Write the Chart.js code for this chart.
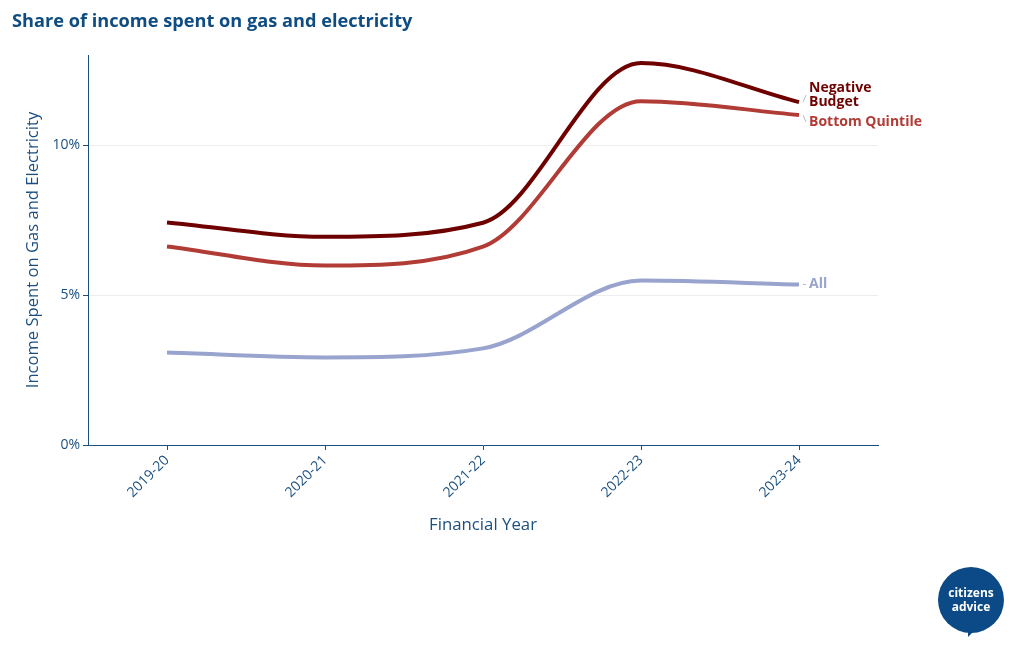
<!DOCTYPE html>
<html>
<head>
<meta charset="utf-8">
<script src="https://cdn.jsdelivr.net/npm/chart.js@4"></script>
<style>
  html, body { margin: 0; padding: 0; background: #fff; }
  #wrap { position: relative; width: 1020px; height: 650px; }
  #title {
    position: absolute; left: 12px; top: 8px;
    font: bold 18.2px "Open Sans", sans-serif; color: #0f4c81;
  }
  #logo {
    position: absolute; left: 938px; top: 567px; width: 66px; height: 66px;
    border-radius: 50%; background: #0b4a86; color: #fff;
    font: bold 12px/14px "Open Sans", sans-serif; text-align: center;
    display: flex; align-items: center; justify-content: center;
  }
  #logo:after {
    content: ""; position: absolute; left: 30px; bottom: -4px;
    border-left: 6px solid #0b4a86; border-bottom: 6px solid transparent;
  }
</style>
</head>
<body>
<div id="wrap">
  <canvas id="chart" width="1020" height="650"></canvas>
  <div id="title">Share of income spent on gas and electricity</div>
  <div id="logo">citizens<br>advice</div>
</div>
<script>
const years = ["2019-20", "2020-21", "2021-22", "2022-23", "2023-24"];
const negativeBudget = [7.42, 6.94, 7.41, 12.73, 11.43];
const bottomQuintile = [6.62, 5.98, 6.61, 11.46, 11.0];
const allHouseholds = [3.08, 2.92, 3.22, 5.48, 5.35];
const yTicks = [0, 5, 10];

const axisColor = "#1c4f7e";
const font = "'Open Sans', sans-serif";

// end-of-line labels, like the plotly annotations
const endLabels = {
  id: "endLabels",
  afterDatasetsDraw(chart) {
    const ctx = chart.ctx;
    const items = [
      { ds: 0, lines: ["Negative", "Budget"], dy: -7 },
      { ds: 1, lines: ["Bottom Quintile"], dy: 7 },
      { ds: 2, lines: ["All"], dy: 0 }
    ];
    ctx.save();
    ctx.font = "bold 14px " + font;
    ctx.textBaseline = "middle";
    items.forEach(it => {
      const meta = chart.getDatasetMeta(it.ds);
      const pt = meta.data[meta.data.length - 1];
      const color = chart.data.datasets[it.ds].borderColor;
      const y = pt.y + it.dy;
      // small connector
      ctx.strokeStyle = "#bbb";
      ctx.lineWidth = 1;
      ctx.beginPath();
      ctx.moveTo(pt.x + 4, pt.y);
      ctx.lineTo(pt.x + 7, y);
      ctx.stroke();
      ctx.fillStyle = color;
      const h = 13.5;
      const y0 = y - (it.lines.length - 1) * h / 2;
      it.lines.forEach((t, i) => ctx.fillText(t, pt.x + 10, y0 + i * h));
    });
    ctx.restore();
  }
};

new Chart(document.getElementById("chart"), {
  type: "line",
  data: {
    labels: years,
    datasets: [
      { label: "Negative Budget", data: negativeBudget, borderColor: "#6e0000" },
      { label: "Bottom Quintile", data: bottomQuintile, borderColor: "#b13b35" },
      { label: "All", data: allHouseholds, borderColor: "#98a4ce" }
    ].map(d => Object.assign(d, {
      borderWidth: 4, pointRadius: 0, tension: 0.4, cubicInterpolationMode: "monotone", fill: false
    }))
  },
  options: {
    responsive: false,
    animation: false,
    layout: { padding: { left: 19, top: 55, right: 142, bottom: 111 } },
    plugins: { legend: { display: false }, tooltip: { enabled: false } },
    scales: {
      x: {
        offset: true,
        afterFit: s => { s.height = 94; },
        grid: { drawOnChartArea: false, offset: false, tickLength: 5, tickColor: axisColor },
        border: { color: axisColor, width: 1 },
        ticks: { color: axisColor, font: { family: font, size: 14 }, minRotation: 45, maxRotation: 45, padding: 2 },
        title: { display: true, text: "Financial Year", color: axisColor, font: { family: font, size: 16.8 } }
      },
      y: {
        min: 0, max: 13,
        afterFit: s => { s.width = 69; },
        afterBuildTicks: s => { s.ticks = yTicks.map(v => ({ value: v })); },
        grid: { color: "#eeeeee", tickLength: 5, tickColor: axisColor },
        border: { color: axisColor, width: 1 },
        ticks: { color: axisColor, font: { family: font, size: 14 }, padding: 3, callback: v => v + "%" },
        title: { display: true, text: "Income Spent on Gas and Electricity", color: axisColor, font: { family: font, size: 16.6 } }
      }
    }
  },
  plugins: [endLabels]
});
</script>
</body>
</html>
